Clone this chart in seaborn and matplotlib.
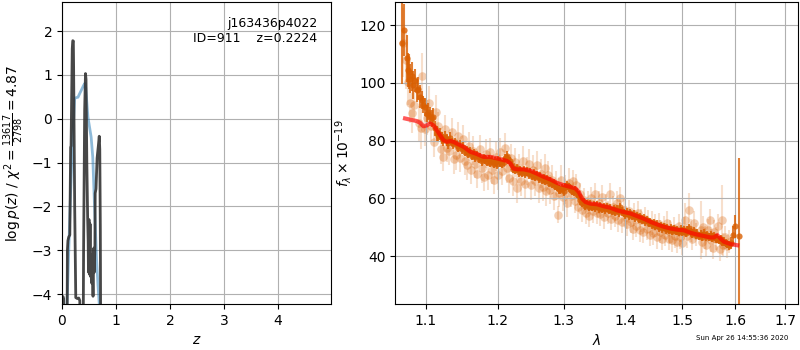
import matplotlib
matplotlib.use("Agg")
import matplotlib.pyplot as plt
import matplotlib.ticker as mticker
import numpy as np
import pandas as pd
import seaborn as sns

# ---------------- data: left panel (redshift PDF) ----------------
z_chi = [0.000, 0.020, 0.030, 0.045, 0.085, 0.100, 0.110, 0.125, 0.145, 0.160, 0.168,
         0.190, 0.200, 0.210, 0.215, 0.235, 0.255, 0.280, 0.310, 0.330, 0.345, 0.380,
         0.400, 0.420, 0.435, 0.445, 0.460, 0.475, 0.485, 0.490, 0.500, 0.510, 0.520,
         0.530, 0.540, 0.550, 0.560, 0.575, 0.590, 0.600, 0.610, 0.615, 0.630, 0.650,
         0.675, 0.690, 0.700, 0.710, 0.725, 0.760]
logp_chi = [-4.05, -4.06, -4.10, -8.0, -8.0, -3.00, -2.78, -2.70, -2.65, -0.65, -0.62,
            1.60, 1.78, 1.77, 1.20, -2.00, -4.08, -4.10, -4.09, -4.15, -8.0, -8.0,
            -3.00, 0.20, 1.03, 0.90, -1.00, -2.25, -2.80, -3.50, -2.30, -3.55, -2.40,
            -3.60, -3.10, -3.75, -3.20, -4.05, -2.95, -3.50, -2.90, -1.70, -1.60, -0.90,
            -0.60, -0.40, -0.70, -2.50, -8.0, -8.0]

z_smooth = [0.060, 0.085, 0.110, 0.154, 0.200, 0.235, 0.260, 0.296, 0.330, 0.358,
            0.400, 0.426, 0.440, 0.480, 0.540, 0.570, 0.600, 0.640, 0.667, 0.700, 0.740]
logp_smooth = [-8.0, -4.50, -3.60, -1.87, -0.34, 0.46, 0.48, 0.49, 0.58, 0.65,
               0.76, 0.81, 0.70, 0.04, -0.42, -0.88, -1.90, -3.20, -3.80, -4.40, -8.0]

obj_name = "j163436p4022"
obj_id = 911
z_best = 0.2224
chi2_num, chi2_den, chi2_val = 13617, 2798, 4.87

# ---------------- data: right panel (1D spectrum) ----------------
wave_a = [1.0692, 1.0718, 1.0749, 1.0765, 1.0780, 1.0798, 1.0815, 1.0837, 1.0859, 1.0881,
          1.0903, 1.0925, 1.0947, 1.0968, 1.0991, 1.1013, 1.1035, 1.1057, 1.1080, 1.1102,
          1.1125, 1.1147, 1.1170, 1.1192, 1.1215, 1.1238, 1.1260, 1.1283, 1.1306, 1.1329,
          1.1352, 1.1375, 1.1398, 1.1421, 1.1444, 1.1467, 1.1490, 1.1513, 1.1536, 1.1560,
          1.1583, 1.1607, 1.1630, 1.1654, 1.1677, 1.1701, 1.1725, 1.1748, 1.1772, 1.1796,
          1.1820, 1.1844, 1.1868, 1.1892, 1.1916, 1.1940, 1.1964, 1.1988, 1.2012, 1.2036,
          1.2060, 1.2085, 1.2110, 1.2134, 1.2158, 1.2183, 1.2207, 1.2232, 1.2257, 1.2282,
          1.2307, 1.2332, 1.2357, 1.2382, 1.2407, 1.2432, 1.2457, 1.2482, 1.2508, 1.2533,
          1.2558, 1.2584, 1.2609, 1.2635, 1.2660, 1.2686, 1.2712, 1.2737, 1.2763, 1.2789,
          1.2815, 1.2841, 1.2867, 1.2893, 1.2919, 1.2945, 1.2971, 1.2997, 1.3024, 1.3050,
          1.3076, 1.3103, 1.3129, 1.3156, 1.3183, 1.3209, 1.3236, 1.3263, 1.3290, 1.3317,
          1.3344, 1.3371, 1.3398, 1.3425, 1.3452, 1.3480, 1.3507, 1.3534, 1.3561, 1.3589,
          1.3616, 1.3643, 1.3671, 1.3699, 1.3726, 1.3754, 1.3782, 1.3810, 1.3838, 1.3866,
          1.3894, 1.3922, 1.3950, 1.3978, 1.4006, 1.4035, 1.4063, 1.4092, 1.4120, 1.4149,
          1.4178, 1.4206, 1.4235, 1.4264, 1.4293, 1.4322, 1.4351, 1.4380, 1.4409, 1.4438,
          1.4468, 1.4497, 1.4526, 1.4556, 1.4585, 1.4615, 1.4644, 1.4674, 1.4704, 1.4734,
          1.4763, 1.4793, 1.4823, 1.4853, 1.4883, 1.4913, 1.4943, 1.4974, 1.5004, 1.5034,
          1.5065, 1.5095, 1.5126, 1.5156, 1.5187, 1.5218, 1.5248, 1.5279, 1.5310, 1.5341,
          1.5372, 1.5403, 1.5434, 1.5465, 1.5497, 1.5528, 1.5559, 1.5591, 1.5622, 1.5654,
          1.5686, 1.5717, 1.5749, 1.5781, 1.5813, 1.5845, 1.5877, 1.5909, 1.5955, 1.6000,
          1.6075]
flux_a = [113.7, 118.5, 108.5, 104.5, 103.9, 101.5, 102.3, 99.3, 101.0, 97.5,
          98.0, 95.2, 94.1, 92.5, 91.7, 89.4, 90.0, 88.7, 87.7, 88.2,
          84.3, 82.5, 81.8, 82.3, 80.9, 80.2, 81.4, 80.2, 79.3, 81.0,
          79.6, 78.8, 79.5, 78.5, 77.6, 78.6, 77.0, 77.9, 76.1, 76.7,
          75.4, 76.2, 74.7, 75.6, 74.2, 75.0, 73.8, 74.4, 72.9, 73.9,
          73.5, 72.6, 73.6, 72.4, 73.1, 72.0, 72.7, 71.8, 73.3, 72.5,
          71.9, 72.7, 74.0, 74.8, 73.6, 72.8, 71.5, 70.3, 69.8, 70.4,
          69.1, 69.7, 68.9, 69.8, 68.7, 69.3, 68.3, 68.9, 67.9, 68.6,
          67.5, 68.1, 67.0, 67.6, 66.5, 67.0, 66.0, 66.6, 65.5, 65.9,
          65.0, 65.4, 64.3, 64.0, 63.2, 62.9, 63.6, 62.5, 64.0, 64.6,
          63.8, 63.5, 62.7, 62.3, 62.9, 61.7, 61.0, 59.4, 58.6, 58.8,
          57.5, 58.1, 57.2, 57.8, 57.0, 57.6, 56.9, 57.5, 56.6, 57.3,
          56.4, 57.1, 56.2, 56.9, 56.0, 56.5, 55.7, 56.3, 55.4, 56.1,
          55.2, 57.0, 55.5, 55.0, 54.5, 55.1, 54.2, 54.8, 53.9, 54.4,
          53.5, 53.9, 53.0, 53.5, 52.6, 53.0, 52.1, 52.5, 51.6, 51.9,
          51.0, 51.4, 50.5, 50.9, 50.0, 50.5, 49.7, 50.1, 49.3, 49.8,
          49.1, 49.6, 48.8, 49.4, 48.7, 49.0, 48.4, 49.2, 48.5, 49.0,
          48.2, 48.9, 49.6, 48.4, 47.8, 48.6, 47.5, 47.8, 47.0, 47.6,
          46.8, 47.8, 46.9, 47.4, 46.6, 47.3, 46.4, 47.0, 46.2, 46.1,
          45.6, 45.8, 45.0, 45.0, 44.6, 44.2, 43.8, 44.5, 47.3, 50.4,
          46.9]
err_a = [14, 9, 8, 6, 6, 5, 5, 5, 4, 4,
         4, 4, 3, 3, 3, 3, 3, 3, 3, 3,
         2.5, 2.5, 2, 2, 2, 2, 2, 2, 2, 2,
         1.5, 1.5, 1.5, 1.5, 1.5, 1.5, 1.5, 1.5, 1.5, 1.5,
         1.5, 1.5, 1.5, 1.5, 1.5, 1.5, 1.5, 1.5, 1.5, 1.5,
         1.5, 1.5, 1.5, 1.5, 1.5, 1.5, 1.5, 1.5, 1.5, 1.5,
         1.5, 1.5, 1.5, 1.5, 1.5, 1.5, 1.5, 1.5, 1.5, 1.5,
         1.5, 1.5, 1.5, 1.5, 1.5, 1.5, 1.5, 1.5, 1.5, 1.5,
         1.5, 1.5, 1.5, 1.5, 1.5, 1.5, 1.5, 1.5, 1.5, 1.5,
         1.5, 1.5, 1.5, 1.5, 1.5, 1.5, 1.5, 1.5, 1.5, 1.5,
         1.5, 1.5, 1.5, 1.5, 1.5, 1.5, 1.5, 1.5, 1.5, 1.5,
         1.5, 1.5, 1.5, 1.5, 1.5, 1.5, 1.5, 1.5, 1.5, 1.5,
         1.5, 1.5, 1.5, 1.5, 1.5, 1.5, 1.5, 1.5, 1.5, 1.5,
         1.5, 1.5, 1.5, 1.5, 1.5, 1.5, 1.5, 1.5, 1.5, 1.5,
         1.5, 1.5, 1.5, 1.5, 1.5, 1.5, 1.5, 1.5, 1.5, 1.5,
         1.5, 1.5, 1.5, 1.5, 1.5, 1.5, 1.5, 1.5, 1.5, 1.5,
         1.5, 1.5, 1.5, 1.5, 1.5, 1.5, 1.5, 1.5, 1.5, 1.5,
         1.5, 1.5, 1.5, 1.5, 1.5, 1.5, 1.5, 1.5, 1.5, 1.5,
         1.5, 1.5, 1.5, 1.5, 1.5, 1.5, 1.5, 1.5, 1.5, 1.5,
         1.5, 1.5, 1.5, 1.5, 1.5, 1.5, 1.5, 2, 3, 4,
         27]

wave_b = [1.0700, 1.0735, 1.0760, 1.0790, 1.0820, 1.0850, 1.0905, 1.0930, 1.0945, 1.0985,
          1.1010, 1.1045, 1.1075, 1.1110, 1.1140, 1.1170, 1.1200, 1.1230, 1.1260, 1.1290,
          1.1320, 1.1350, 1.1380, 1.1410, 1.1440, 1.1470, 1.1500, 1.1530, 1.1560, 1.1590,
          1.1620, 1.1650, 1.1680, 1.1710, 1.1740, 1.1770, 1.1800, 1.1830, 1.1860, 1.1890,
          1.1920, 1.1950, 1.1980, 1.2010, 1.2040, 1.2070, 1.2100, 1.2130, 1.2160, 1.2190,
          1.2220, 1.2250, 1.2280, 1.2310, 1.2340, 1.2370, 1.2400, 1.2430, 1.2460, 1.2490,
          1.2520, 1.2550, 1.2580, 1.2610, 1.2640, 1.2670, 1.2700, 1.2730, 1.2760, 1.2790,
          1.2820, 1.2850, 1.2880, 1.2905, 1.2930, 1.2960, 1.2990, 1.3020, 1.3050, 1.3080,
          1.3110, 1.3140, 1.3170, 1.3200, 1.3230, 1.3260, 1.3290, 1.3320, 1.3350, 1.3380,
          1.3410, 1.3440, 1.3470, 1.3500, 1.3530, 1.3560, 1.3590, 1.3620, 1.3650, 1.3680,
          1.3710, 1.3740, 1.3770, 1.3800, 1.3830, 1.3860, 1.3890, 1.3920, 1.3950, 1.3980,
          1.4010, 1.4040, 1.4070, 1.4100, 1.4130, 1.4160, 1.4190, 1.4220, 1.4250, 1.4280,
          1.4310, 1.4340, 1.4370, 1.4400, 1.4430, 1.4460, 1.4490, 1.4520, 1.4550, 1.4580,
          1.4610, 1.4640, 1.4670, 1.4700, 1.4730, 1.4760, 1.4790, 1.4820, 1.4850, 1.4880,
          1.4910, 1.4940, 1.4970, 1.5000, 1.5030, 1.5060, 1.5090, 1.5130, 1.5160, 1.5190,
          1.5220, 1.5250, 1.5345, 1.5360, 1.5390, 1.5420, 1.5450, 1.5480, 1.5510, 1.5540,
          1.5570, 1.5600, 1.5630, 1.5660, 1.5700, 1.5735, 1.5765, 1.5800, 1.5840, 1.5880]
flux_b = [114.0, 108.0, 100.5, 93.0, 89.5, 92.5, 86.0, 84.3, 102.5, 84.0,
          88.0, 93.0, 85.0, 79.5, 90.0, 85.0, 77.0, 74.5, 84.0, 77.5,
          76.5, 83.0, 73.5, 75.0, 81.5, 74.0, 80.5, 73.0, 71.5, 78.0,
          70.0, 76.5, 72.0, 68.5, 77.0, 70.5, 67.5, 75.5, 68.0, 76.0,
          70.0, 66.5, 74.5, 68.0, 76.0, 69.5, 77.5, 70.5, 67.0, 74.0,
          66.0, 72.5, 63.5, 70.5, 66.0, 73.0, 65.0, 69.5, 72.0, 64.5,
          70.0, 66.0, 71.5, 63.5, 68.5, 64.0, 70.5, 62.5, 68.0, 63.0,
          66.5, 61.0, 64.5, 54.4, 62.0, 66.5, 60.5, 63.0, 58.5, 65.5,
          61.0, 66.0, 59.0, 64.5, 57.0, 61.5, 56.0, 59.5, 55.0, 58.5,
          54.0, 60.0, 55.5, 61.5, 55.0, 58.5, 54.5, 60.5, 53.5, 57.5,
          55.0, 61.5, 53.0, 57.0, 54.0, 58.5, 52.5, 60.0, 52.0, 56.0,
          53.5, 51.0, 55.5, 52.0, 49.5, 54.5, 50.5, 55.0, 49.0, 52.5,
          48.5, 53.0, 49.5, 52.0, 47.5, 51.5, 48.0, 50.5, 46.5, 51.0,
          48.5, 46.0, 50.0, 47.5, 51.5, 46.0, 48.5, 45.5, 49.5, 47.0,
          45.0, 50.5, 46.5, 44.5, 49.5, 52.5, 47.0, 56.0, 49.0, 46.0,
          51.5, 47.5, 49.0, 45.0, 50.0, 46.5, 44.0, 49.0, 52.5, 45.5,
          43.0, 48.5, 46.0, 50.5, 42.5, 52.5, 44.0, 46.5, 43.5, 45.0]
err_b = [12, 10, 8, 7, 7, 6, 6, 7, 8, 6,
         6, 6, 5, 5, 6, 5, 5, 5, 5, 5,
         5, 5, 5, 5, 5, 5, 5, 5, 5, 5,
         5, 5, 5, 5, 5, 5, 5, 5, 5, 5,
         5, 5, 5, 5, 5, 5, 5, 5, 5, 5,
         5, 5, 5, 5, 5, 5, 5, 5, 5, 5,
         5, 5, 5, 5, 5, 5, 5, 5, 5, 5,
         5, 5, 5, 3, 5, 5, 5, 5, 5, 5,
         4, 4, 4, 4, 4, 4, 4, 4, 4, 4,
         4, 4, 4, 4, 4, 4, 4, 4, 4, 4,
         4, 4, 4, 4, 4, 4, 4, 4, 4, 4,
         4, 4, 4, 4, 4, 4, 4, 4, 4, 4,
         4, 4, 4, 4, 4, 4, 4, 4, 4, 4,
         4, 4, 4, 4, 4, 4, 4, 4, 4, 4,
         4, 4, 4, 4, 4, 6, 4, 6, 4, 4,
         4, 4, 10, 4, 4, 4, 4, 4, 4, 4,
         4, 4, 4, 4, 4, 12, 4, 4, 4, 4]

wave_model = [1.0727, 1.0793, 1.0880, 1.0925, 1.0968, 1.1013, 1.1057, 1.1102, 1.1147, 1.1192,
              1.1238, 1.1283, 1.1329, 1.1375, 1.1421, 1.1513, 1.1607, 1.1701, 1.1796, 1.1892,
              1.1988, 1.2085, 1.2134, 1.2183, 1.2232, 1.2282, 1.2382, 1.2482, 1.2584, 1.2686,
              1.2789, 1.2893, 1.2997, 1.3103, 1.3183, 1.3236, 1.3290, 1.3344, 1.3425, 1.3534,
              1.3643, 1.3754, 1.3866, 1.3978, 1.4092, 1.4206, 1.4322, 1.4438, 1.4556, 1.4674,
              1.4793, 1.4913, 1.5034, 1.5156, 1.5279, 1.5403, 1.5528, 1.5591, 1.5654, 1.5717,
              1.5781, 1.5909, 1.6038]
flux_model = [87.7, 87.3, 86.8, 86.2, 85.0, 85.3, 86.0, 85.3, 83.7, 81.9,
              80.2, 79.6, 79.9, 79.6, 79.0, 77.9, 76.2, 75.4, 74.4, 74.4,
              73.9, 73.3, 73.0, 72.2, 70.4, 70.1, 70.1, 69.6, 68.6, 67.5,
              66.6, 65.4, 64.6, 64.0, 63.5, 62.3, 60.0, 58.8, 58.2, 58.0,
              57.3, 56.8, 55.9, 55.3, 54.8, 53.9, 53.0, 51.9, 51.0, 50.2,
              49.6, 49.2, 49.0, 48.1, 47.5, 47.0, 46.5, 46.5, 47.3, 46.1,
              45.0, 44.2, 43.8]

wave_ticks = [1.1, 1.2, 1.3, 1.4, 1.5, 1.6, 1.7]
wave_ticklabels = ["1.1", "1.2", "1.3", "1.4", "1.5", "1.6", "1.7"]
flux_ticks = [40, 60, 80, 100, 120]
z_ticks = [0, 1, 2, 3, 4]
logp_ticks = [-4, -3, -2, -1, 0, 1, 2]
timestamp = "Sun Apr 26 14:55:36 2020"

# ---------------- figure ----------------
plt.rcParams["font.family"] = ["DejaVu Sans"]
fig = plt.figure(figsize=(8, 3.5), dpi=100)
ax1 = fig.add_axes([0.0775, 0.131, 0.336, 0.863])
ax2 = fig.add_axes([0.494, 0.131, 0.504, 0.863])

df_chi = pd.DataFrame({"z": z_chi, "logp": logp_chi})
df_sm = pd.DataFrame({"z": z_smooth, "logp": logp_smooth})
sns.lineplot(data=df_sm, x="z", y="logp", ax=ax1, color="#1f77b4", alpha=0.5,
             linewidth=2, estimator=None, sort=False)
sns.lineplot(data=df_chi, x="z", y="logp", ax=ax1, color="0.2", alpha=0.9,
             linewidth=2, estimator=None, sort=False)
ax1.set_xlim(0, 4.98)
ax1.set_ylim(-4.23, 2.66)
ax1.set_xticks(z_ticks)
ax1.set_yticks(logp_ticks)
ax1.grid(True)
ax1.set_xlabel(r"$z$")
ax1.set_ylabel(r"$\log p(z)$" + " / " +
               r"$\chi^2=\frac{%d}{%d}=%.2f$" % (chi2_num, chi2_den, chi2_val))
ax1.text(0.95, 0.95, "%s\nID=%d    z=%.4f" % (obj_name, obj_id, z_best),
         ha="right", va="top", transform=ax1.transAxes, fontsize=9)

orange = "#d95f02"
df_b = pd.DataFrame({"wave": wave_b, "flux": flux_b})
df_a = pd.DataFrame({"wave": wave_a, "flux": flux_a})
ax2.errorbar(wave_b, flux_b, yerr=err_b, fmt="none", ecolor=orange, alpha=0.2,
             elinewidth=1.5, zorder=1)
sns.scatterplot(data=df_b, x="wave", y="flux", ax=ax2, color=orange, alpha=0.3,
                s=38, linewidth=0, zorder=1)
ax2.errorbar(wave_a, flux_a, yerr=err_a, fmt="none", ecolor=orange, alpha=0.8,
             elinewidth=1.5, zorder=2)
sns.scatterplot(data=df_a, x="wave", y="flux", ax=ax2, color=orange, alpha=0.8,
                s=20, linewidth=0, zorder=2)
df_m = pd.DataFrame({"wave": wave_model, "flux": flux_model})
sns.lineplot(data=df_m, x="wave", y="flux", ax=ax2, color="red", alpha=0.65,
             linewidth=3, estimator=None, sort=False, zorder=3)

ax2.set_xscale("log")
ax2.set_xlim(1.06, 1.727)
ax2.set_ylim(23.4, 128)
ax2.xaxis.set_major_locator(mticker.FixedLocator(wave_ticks))
ax2.xaxis.set_major_formatter(mticker.FixedFormatter(wave_ticklabels))
ax2.xaxis.set_minor_locator(mticker.NullLocator())
ax2.set_yticks(flux_ticks)
ax2.grid(True)
ax2.set_xlabel(r"$\lambda$")
ax2.set_ylabel(r"$f_\lambda\times10^{-19}$")

fig.text(0.985, 0.025, timestamp, ha="right", va="bottom", fontsize=5)

fig.savefig("out.png", dpi=100)
